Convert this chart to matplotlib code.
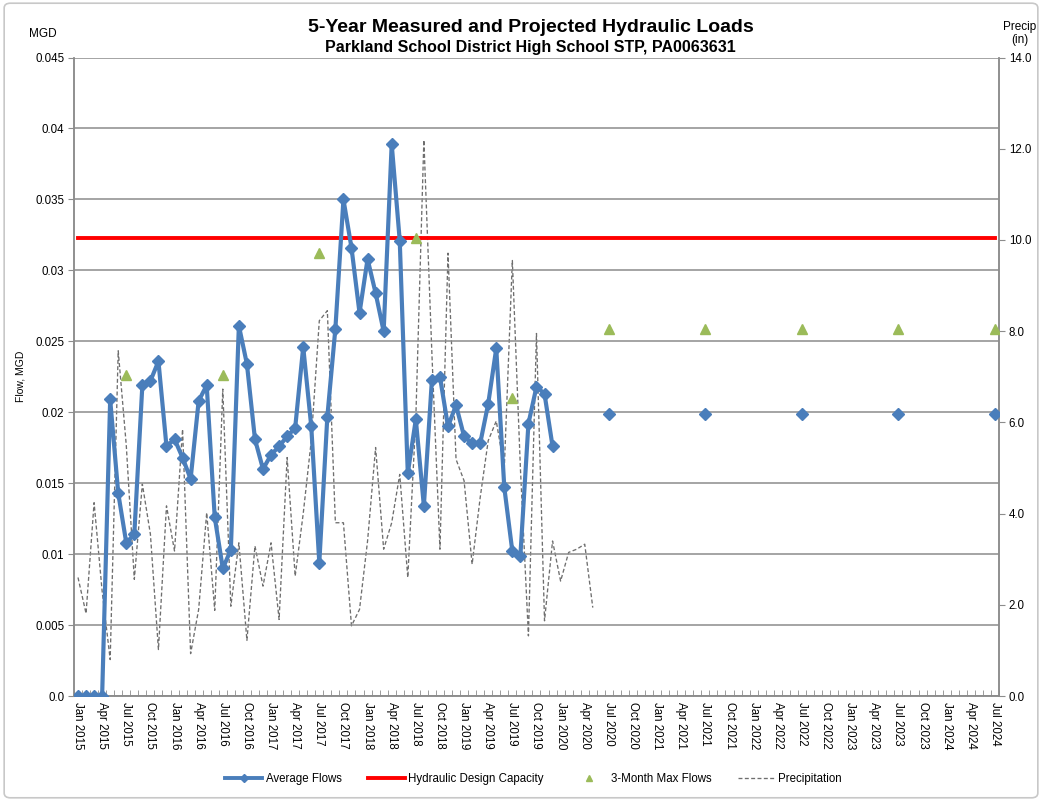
import numpy as np
import matplotlib.pyplot as plt
from matplotlib.lines import Line2D
from matplotlib.patches import FancyBboxPatch

plt.rcParams['font.family'] = ['Liberation Sans', 'DejaVu Sans']

# categories: one per month, Jan 2015 .. Jul 2024
month_names = ['Jan', 'Feb', 'Mar', 'Apr', 'May', 'Jun',
               'Jul', 'Aug', 'Sep', 'Oct', 'Nov', 'Dec']
months = [m + ' ' + str(y) for y in range(2015, 2025) for m in month_names][:115]

# measured average flows (MGD), Jan 2015 - Dec 2019
avg_flows = [
    0.0, 0.0, 0.0, 0.0, 0.0209, 0.0143, 0.0108, 0.0114, 0.0219, 0.0222, 0.0236, 0.0176,
    0.0181, 0.0168, 0.0153, 0.0208, 0.0219, 0.0126, 0.0090, 0.0103, 0.0261, 0.0234, 0.0181, 0.0160,
    0.0170, 0.0176, 0.0183, 0.0189, 0.0246, 0.0190, 0.0094, 0.0197, 0.0259, 0.0350, 0.0316, 0.0270,
    0.0308, 0.0284, 0.0257, 0.0389, 0.0321, 0.0157, 0.0195, 0.0134, 0.0223, 0.0225, 0.0190, 0.0205,
    0.0183, 0.0178, 0.0178, 0.0206, 0.0245, 0.0147, 0.0102, 0.0099, 0.0192, 0.0218, 0.0213, 0.0176,
]
# projected average flows
proj_months = ['Jul 2020', 'Jul 2021', 'Jul 2022', 'Jul 2023', 'Jul 2024']
proj_flows = [0.0199, 0.0199, 0.0199, 0.0199, 0.0199]

# 3-month max flows
max_months = ['Jul 2015', 'Jul 2016', 'Jul 2017', 'Jul 2018', 'Jul 2019',
              'Jul 2020', 'Jul 2021', 'Jul 2022', 'Jul 2023', 'Jul 2024']
max_flows = [0.0226, 0.0226, 0.0312, 0.0323, 0.0210,
             0.0259, 0.0259, 0.0259, 0.0259, 0.0259]

design_capacity = 0.0323

# precipitation (in), Jan 2015 - May 2020
precip = [
    2.60, 1.81, 4.24, 2.30, 0.80, 7.57, 5.50, 2.56, 4.65, 3.55, 1.02, 4.17,
    3.18, 5.85, 0.93, 1.90, 4.02, 1.88, 6.73, 1.97, 3.36, 1.22, 3.29, 2.41,
    3.36, 1.68, 5.23, 2.63, 4.00, 5.60, 8.23, 8.45, 3.80, 3.80, 1.54, 1.90,
    3.40, 5.45, 3.22, 3.80, 4.86, 2.60, 6.10, 12.19, 7.50, 3.22, 9.71, 5.19,
    4.72, 2.89, 4.35, 5.60, 6.03, 5.00, 9.55, 5.00, 1.32, 7.95, 1.65, 3.40,
    2.52, 3.15, 3.22, 3.33, 1.94,
]

left_ticks = [0.0, 0.005, 0.01, 0.015, 0.02, 0.025, 0.03, 0.035, 0.04, 0.045]
left_labels = ['0.0', '0.005', '0.01', '0.015', '0.02', '0.025', '0.03', '0.035', '0.04', '0.045']
right_ticks = [0, 2, 4, 6, 8, 10, 12, 14]

# build the flow series over all categories (gaps -> NaN)
x = np.arange(len(months))
flow_series = np.full(len(months), np.nan)
flow_series[:len(avg_flows)] = avg_flows
for m, v in zip(proj_months, proj_flows):
    flow_series[months.index(m)] = v
max_x = [months.index(m) for m in max_months]

blue = '#4A7EBB'
green = '#9BBB59'
grid_c = '#8c8c8c'

fig = plt.figure(figsize=(10.42, 8.01), dpi=100)
ax = fig.add_axes([0.071, 0.131, 0.8877, 0.7972])
ax2 = ax.twinx()
ax.set_zorder(ax2.get_zorder() + 1)
ax.patch.set_visible(False)

ax2.plot(np.arange(len(precip)), precip, color='#6e6e6e', lw=0.95, ls=(0, (3, 1.8)))
ax.plot(x, [design_capacity] * len(x), color='#FF0000', lw=2.8, zorder=3)
ax.plot(x, flow_series, color=blue, lw=3.0, marker='D', ms=6.5, zorder=4)
ax.plot(max_x, max_flows, ls='none', marker='^', ms=7, color=green, zorder=5)

ax.set_xlim(-0.5, len(months) - 0.5)
ax.set_ylim(0, 0.045)
ax2.set_ylim(0, 14)

ax.set_yticks(left_ticks)
ax.set_yticklabels(left_labels)
ax2.set_yticks(right_ticks)
ax2.set_yticklabels(['%.1f' % t for t in right_ticks])
ax.yaxis.grid(True, color=grid_c, lw=1.1)
ax.set_axisbelow(True)

ax.set_xticks(x[::3])
ax.set_xticklabels(months[::3], rotation=-90, fontsize=8.3)
ax.set_xticks(np.arange(-0.5, len(months), 1), minor=True)
ax.tick_params(axis='x', which='major', length=0, pad=4)
ax.tick_params(axis='x', which='minor', length=4, direction='in', color=grid_c)
ax.tick_params(axis='y', length=4, direction='out', color=grid_c, labelsize=8.3, pad=3)
ax2.tick_params(axis='y', length=4, direction='out', color=grid_c, labelsize=8.3, pad=3)

for a in (ax, ax2):
    for s in a.spines.values():
        s.set_color(grid_c)
        s.set_linewidth(1.1)
    a.spines['top'].set_visible(False)

ax.set_ylabel('Flow, MGD', fontsize=7.5, labelpad=7)

fig.text(0.509, 0.966, '5-Year Measured and Projected Hydraulic Loads',
         ha='center', va='center', fontsize=14, fontweight='bold')
fig.text(0.509, 0.941, 'Parkland School District High School STP, PA0063631',
         ha='center', va='center', fontsize=11.5, fontweight='bold')
fig.text(0.041, 0.958, 'MGD', ha='center', va='center', fontsize=8.5)
fig.text(0.979, 0.958, 'Precip\n(in)', ha='center', va='center', fontsize=8.5, linespacing=1.1)

handles = [
    Line2D([0], [0], color=blue, lw=2.8, marker='D', ms=4),
    Line2D([0], [0], color='#FF0000', lw=2.8),
    Line2D([0], [0], ls='none', marker='^', ms=4, color=green),
    Line2D([0], [0], color='#6e6e6e', lw=0.95, ls=(0, (3, 1.8))),
]
labels = ['Average Flows', 'Hydraulic Design Capacity', '3-Month Max Flows', 'Precipitation']
fig.legend(handles, labels, loc='center', bbox_to_anchor=(0.512, 0.027), ncol=4,
           frameon=False, fontsize=8.3, handlelength=3.2, handletextpad=0.3,
           columnspacing=2.3, numpoints=1)

fig.patches.append(FancyBboxPatch((0.004, 0.004), 0.992, 0.992,
                                  boxstyle='round,pad=0,rounding_size=0.006',
                                  transform=fig.transFigure, fill=False,
                                  ec='#c8c8c8', lw=1.2))

fig.savefig('out.png', dpi=100)
plt.close(fig)
